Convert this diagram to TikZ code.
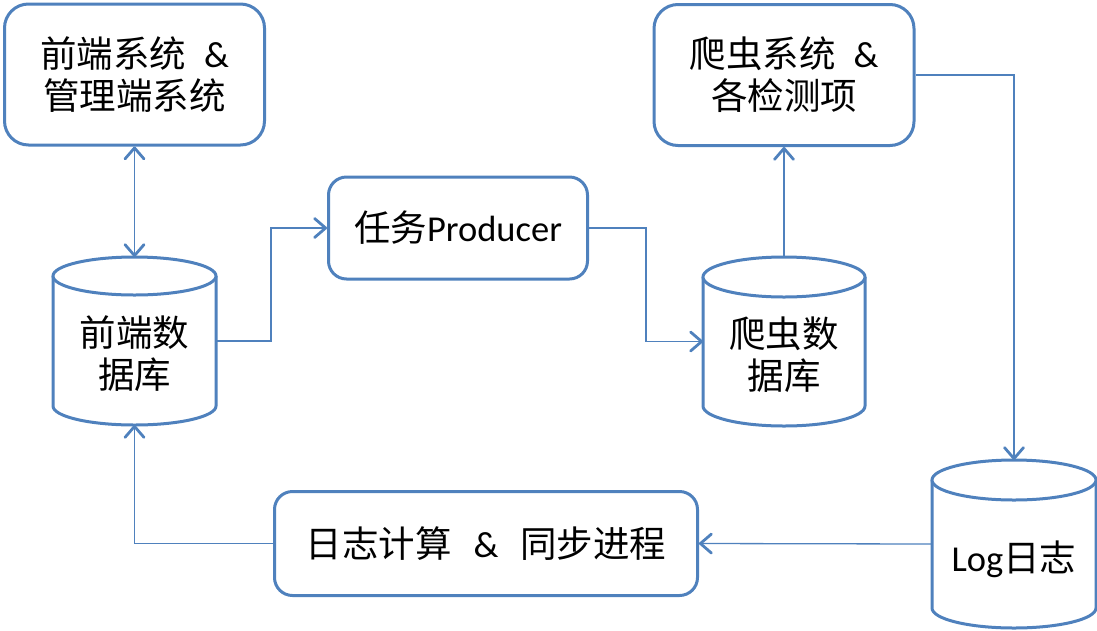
\documentclass[tikz,border=0pt]{standalone}
\usepackage{fontspec}
\setmainfont{Carlito}
\newfontfamily\cjk{Noto Sans CJK SC}
\usetikzlibrary{arrows.meta,calc}
\definecolor{ofblue}{RGB}{79,129,189}
\tikzset{
  box/.style={draw=ofblue, line width=3pt, fill=white, align=center,
    inner sep=0pt, font=\fontsize{36.5}{42}\selectfont},
  cylbody/.style={inner sep=0pt, outer sep=0pt},
  cyltext/.style={align=center, inner sep=0pt, font=\fontsize{36.5}{42}\selectfont},
  cylline/.style={draw=ofblue, line width=3pt, fill=white},
  tip/.tip={Straight Barb[length=11pt,width=19pt,line width=2.8pt,round]},
  conn/.style={draw=ofblue, line width=1.3pt, -tip},
  dconn/.style={draw=ofblue, line width=1.3pt, tip-tip},
}
\newcommand\drawcyl[3]{% name, rx, ry
  \draw[cylline] ($(#1.north west)+(0,#3)$) -- ($(#1.south west)+(0,-#3)$)
    arc[start angle=180,end angle=360,x radius=#2pt,y radius=#3pt]
    -- ($(#1.north east)+(0,#3)$);
  \draw[cylline] ($(#1.north)+(0,#3)$) ellipse[x radius=#2pt,y radius=#3pt];
}
\begin{document}
\begin{tikzpicture}[x=1pt,y=-1pt]
\useasboundingbox (0,0) rectangle (1097,630);

% boxes
\node[box, rounded corners=24pt, minimum width=260pt, minimum height=141pt] (box1) at (134.5,74.5)
  {{\cjk 前端系统}\hspace{18pt}\&\\{\cjk 管理端系统}};
\node[box, rounded corners=24pt, minimum width=260pt, minimum height=141pt] (box2) at (784,75)
  {{\cjk 爬虫系统}\hspace{18pt}\&\\{\cjk 各检测项}};
\node[box, rounded corners=18pt, minimum width=259pt, minimum height=102pt] (box3) at (458,228)
  {{\cjk 任务}Producer};
\node[box, rounded corners=18pt, minimum width=423pt, minimum height=104pt] (box4) at (486,543.5)
  {{\cjk 日志计算}\hspace{22pt}\&\hspace{22pt}{\cjk 同步进程}};

% cylinders
\node[cylbody, minimum width=163pt, minimum height=168pt] (db1) at (134.5,341) {};
\drawcyl{db1}{81.5}{19}
\node[cyltext] (db1t) at ([yshift=-13pt]db1.center) {{\cjk 前端数}\\{\cjk 据库}};

\node[cylbody, minimum width=162pt, minimum height=169pt] (db2) at (784,341.5) {};
\drawcyl{db2}{81}{20}
\node[cyltext] (db2t) at ([yshift=-13pt]db2.center) {{\cjk 爬虫数}\\{\cjk 据库}};

\node[cylbody, minimum width=164pt, minimum height=168pt] (log) at (1014,544) {};
\drawcyl{log}{82}{20}
\node[cyltext] (logt) at ([yshift=-15pt]log.center) {Log{\cjk 日志}};

% connectors
\draw[dconn] (box1.south) -- (db1.north);
\draw[conn] (db1.east) -- ++(55,0) |- (box3.west);
\draw[conn] (box3.east) -- ++(57,0) |- (db2.west);
\draw[conn] (db2.north) -- (box2.south);
\draw[conn] (box2.east) -| (log.north);
\draw[conn] (log.west) -- (box4.east);
\draw[conn] (box4.west) -| (db1.south);
\end{tikzpicture}
\end{document}
